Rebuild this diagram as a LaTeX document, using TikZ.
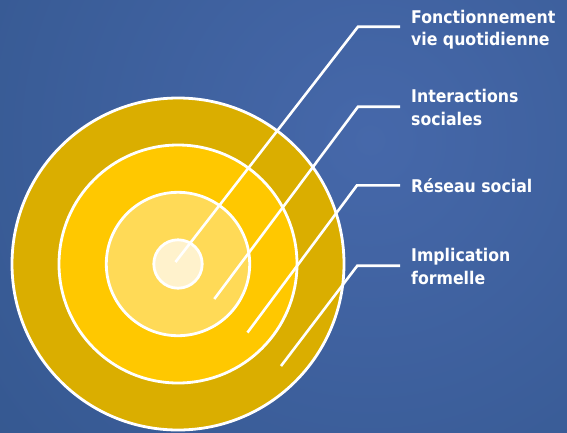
\documentclass[tikz,border=0pt]{standalone}
\usepackage{fontspec}
\setmainfont{DejaVu Sans Condensed}
\definecolor{bgin}{HTML}{4668AA}
\definecolor{bgout}{HTML}{234775}
\definecolor{ringA}{HTML}{DAAE00}
\definecolor{ringB}{HTML}{FFC800}
\definecolor{ringC}{HTML}{FFDA57}
\definecolor{ringD}{HTML}{FFF2CC}
\begin{document}
\begin{tikzpicture}[x=1pt,y=-1pt,
  ring/.style={draw=white,line width=2.8pt},
  leader/.style={draw=white,line width=2.6pt},
  lbl/.style={anchor=base west,inner sep=0pt,text=white,font=\fontsize{17.5pt}{22.4pt}\selectfont\bfseries,align=left}]
\useasboundingbox (0,0) rectangle (567,432);
\begin{scope}
\clip (0,0) rectangle (567,432);
\shade[inner color=bgin,outer color=bgout] (370,140) circle (1000);
\end{scope}
\coordinate (c) at (178,264);
\filldraw[ring,fill=ringA] (c) circle (166);
\filldraw[ring,fill=ringB] (c) circle (119);
\filldraw[ring,fill=ringC] (c) circle (71.7);
\filldraw[ring,fill=ringD] (c) circle (24.2);
% leader end points
\coordinate (s1) at (175.5,262);
\coordinate (s2) at (214.3,299);
\coordinate (s3) at (247.5,332.5);
\coordinate (s4) at (281,366);
\coordinate (e1) at (358,26.7);
\coordinate (e2) at (358,106.7);
\coordinate (e3) at (357,185.3);
\coordinate (e4) at (357.3,265.7);
\coordinate (h1) at (400,26.7);
\coordinate (h2) at (400,106.7);
\coordinate (h3) at (400,185.3);
\coordinate (h4) at (400,265.7);
\draw[leader] (s1) -- (e1) -- (h1);
\draw[leader] (s2) -- (e2) -- (h2);
\draw[leader] (s3) -- (e3) -- (h3);
\draw[leader] (s4) -- (e4) -- (h4);
\node[lbl] (t1) at (411,45.7) {Fonctionnement\\vie quotidienne};
\node[lbl] (t2) at (411,125) {Interactions\\sociales};
\node[lbl] (t3) at (411,192.7) {Réseau social};
\node[lbl] (t4) at (411,284) {Implication\\formelle};
\end{tikzpicture}
\end{document}
